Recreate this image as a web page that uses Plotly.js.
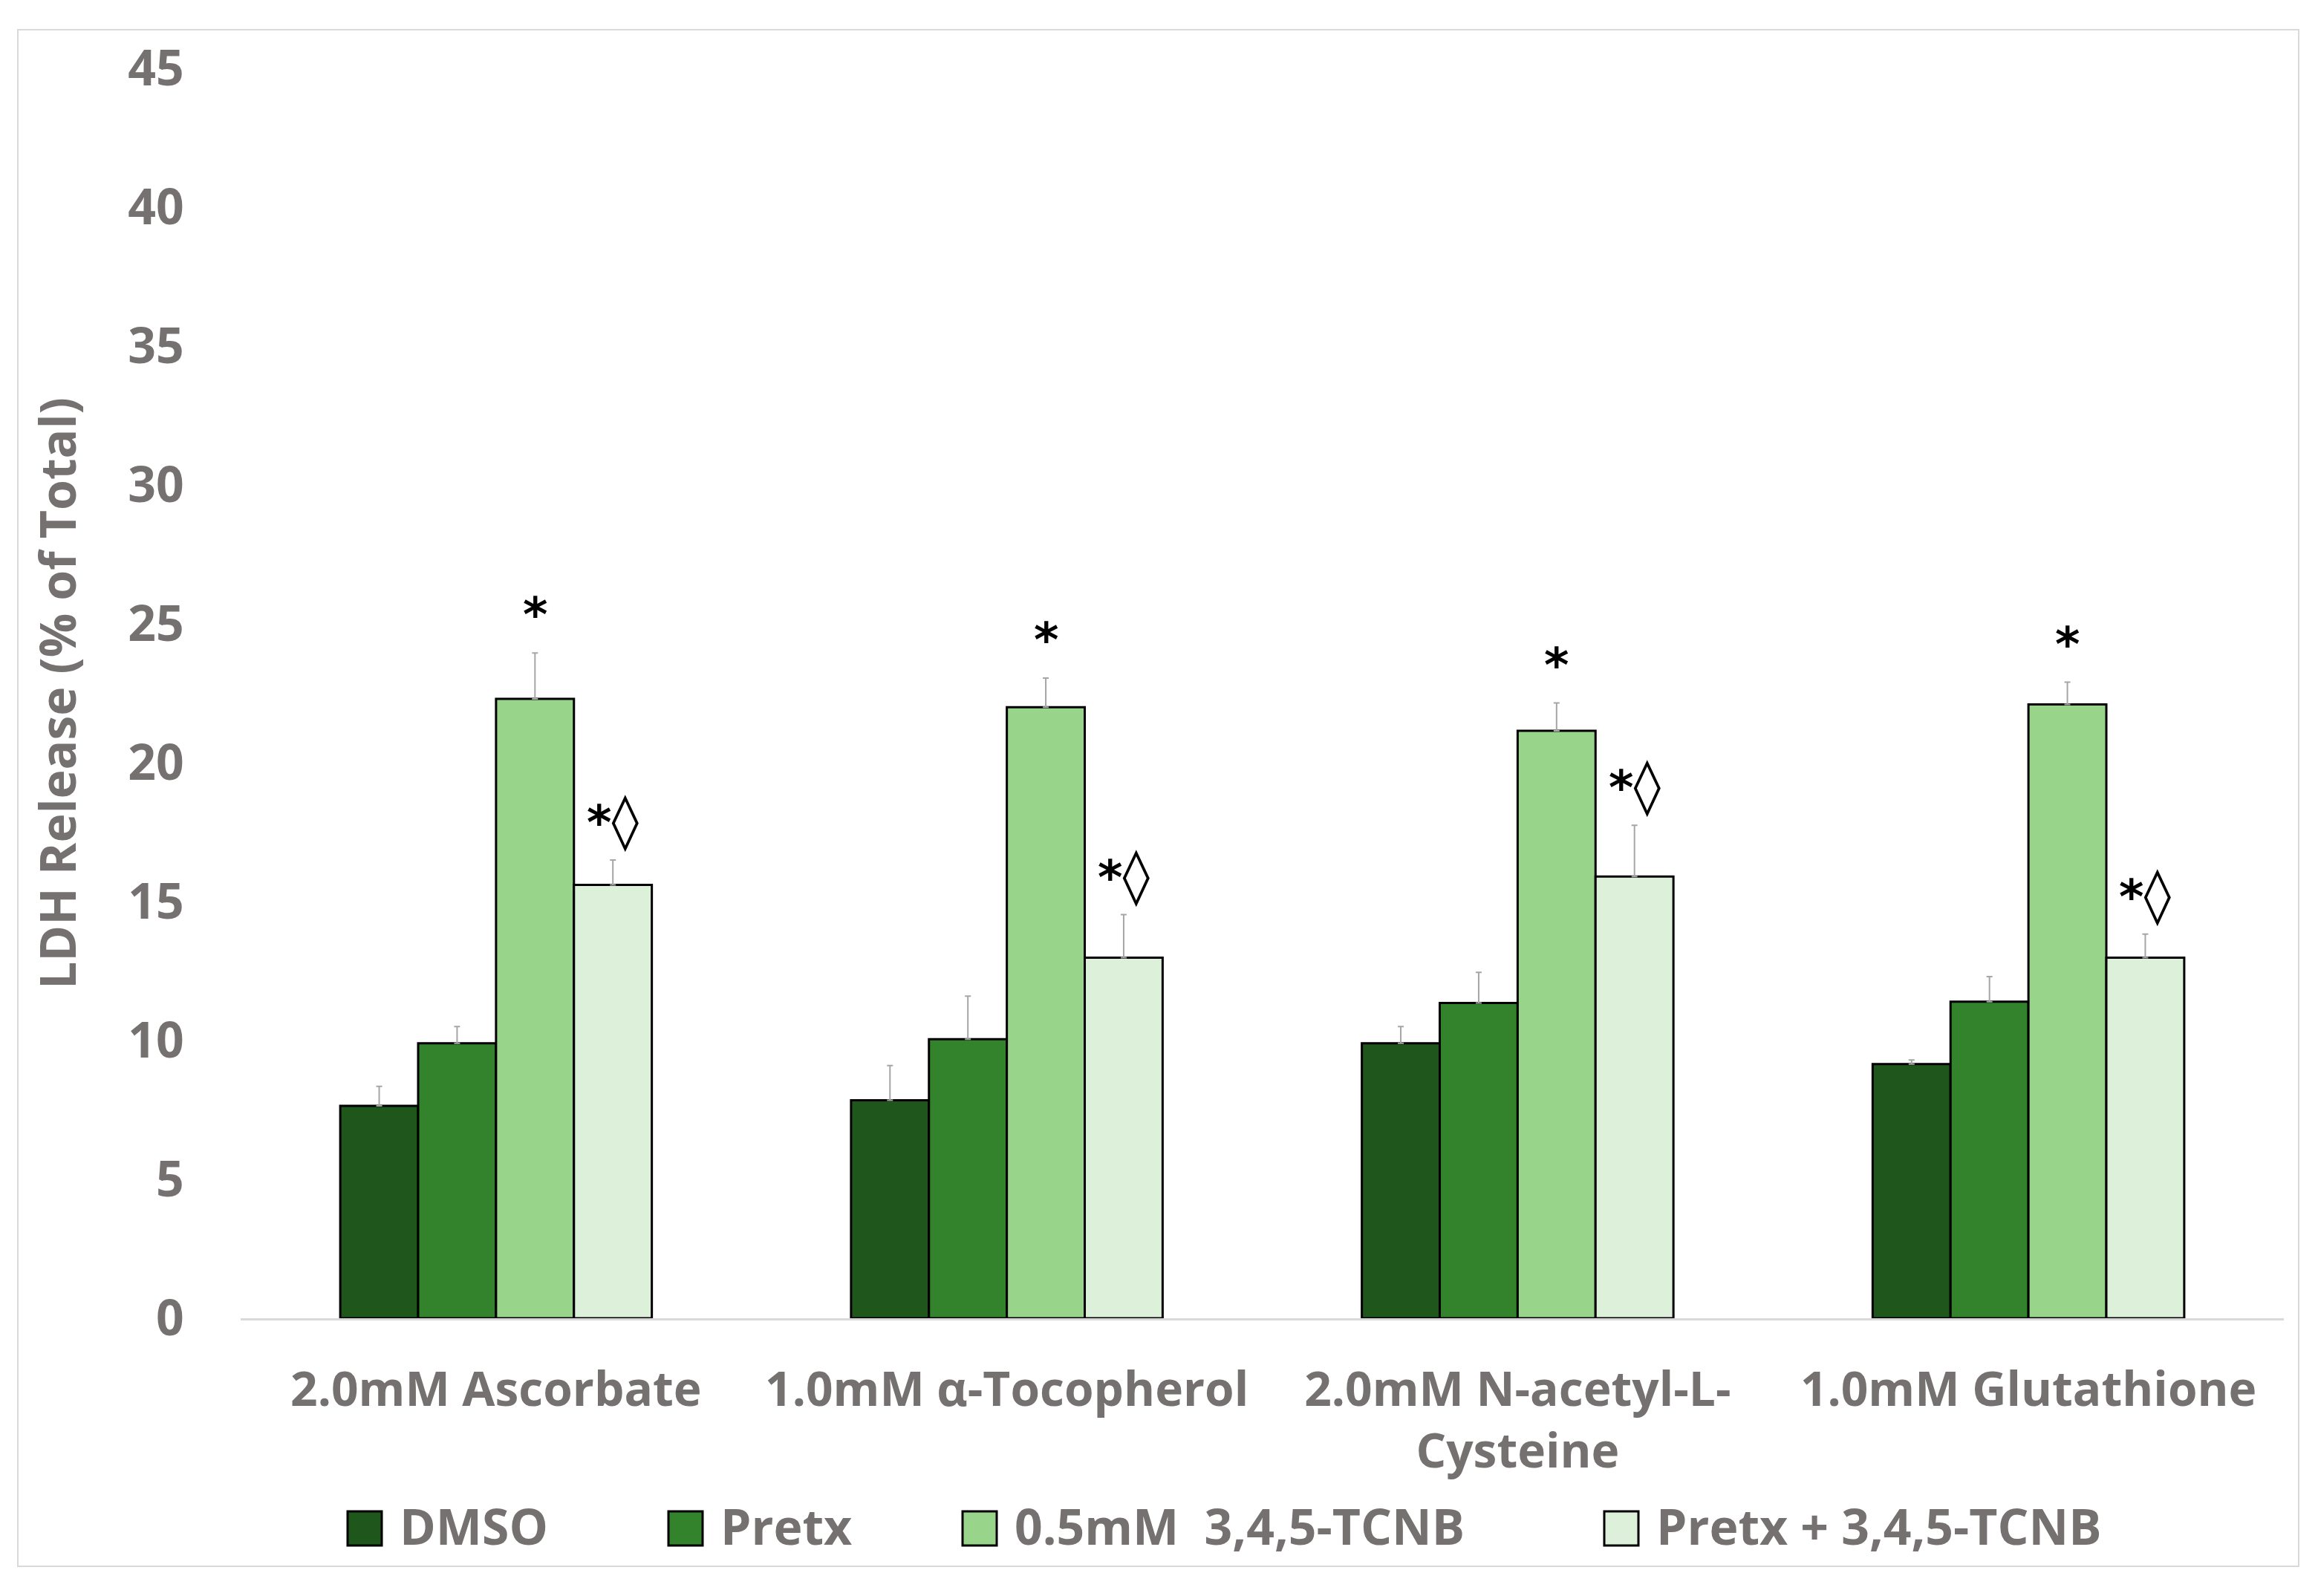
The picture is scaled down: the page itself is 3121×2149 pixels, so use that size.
<!DOCTYPE html>
<html>
<head>
<meta charset="utf-8">
<script src="https://cdn.plot.ly/plotly-3.0.1.min.js"></script>
<style>
  body { margin: 0; background: #fff; }
  #chart { width: 3121px; height: 2149px; }
</style>
</head>
<body>
<div id="chart"></div>
<script>
// categories and series
var categories = ['2.0mM Ascorbate', '1.0mM \u03b1-Tocopherol', '2.0mM N-acetyl-L-<br>Cysteine', '1.0mM Glutathione']
var seriesNames = ['DMSO', 'Pretx', '0.5mM\u00a0\u00a03,4,5-TCNB', 'Pretx + 3,4,5-TCNB']
var dmso = [7.65, 7.85, 9.9, 9.15]
var dmsoErr = [0.7, 1.25, 0.6, 0.15]
var pretx = [9.9, 10.05, 11.35, 11.4]
var pretxErr = [0.6, 1.55, 1.1, 0.9]
var tcnb = [22.3, 22.0, 21.15, 22.1]
var tcnbErr = [1.65, 1.05, 1.0, 0.8]
var pretxTcnb = [15.6, 12.98, 15.9, 12.98]
var pretxTcnbErr = [0.9, 1.55, 1.85, 0.85]
var tcnbSig = ['*', '*', '*', '*']
var pretxTcnbSig = ['*<span style="font-size:74px">\u25ca</span>', '*<span style="font-size:74px">\u25ca</span>',
                    '*<span style="font-size:74px">\u25ca</span>', '*<span style="font-size:74px">\u25ca</span>']

//setting
var W = 3121, H = 2149
var mL = 324, mR = 46, mT = 92, mB = 374
var grayText = '#767171'
var fontFam = '"Open Sans", Lato, sans-serif'
var colors = ['#1f561b', '#32832b', '#98d48a', '#ddf0da']
var values = [dmso, pretx, tcnb, pretxTcnb]
var errs = [dmsoErr, pretxErr, tcnbErr, pretxTcnbErr]

// pixel -> paper helpers for the things drawn outside the plot area
var plotW = W - mL - mR, plotH = H - mT - mB
function px(x) { return (x - mL) / plotW }
function py(y) { return (H - mB - y) / plotH }

var data = []
for (var i = 0; i < 4; i++) {
    data.push({
        type: 'bar',
        name: seriesNames[i],
        x: categories,
        y: values[i],
        showlegend: false,
        marker: { color: colors[i], line: { color: '#000', width: 3 } },
        error_y: {
            type: 'data',
            symmetric: false,
            array: errs[i],
            arrayminus: errs[i].map(function () { return 0 }),
            color: '#a6a6a6',
            thickness: 2,
            width: 4
        }
    })
}

// significance marks above the two treated bars
var annotations = []
var shapes = []
var groupW = 0.61, barW = groupW / 4
var sigFont = { family: '"DejaVu Sans", sans-serif', size: 64, color: '#000', weight: 'bold' }
for (var j = 0; j < categories.length; j++) {
    annotations.push({
        x: j - groupW / 2 + barW * 2.5, y: tcnb[j] + tcnbErr[j],
        xref: 'x', yref: 'y', text: tcnbSig[j], showarrow: false,
        yanchor: 'bottom', yshift: 12, font: sigFont
    })
    annotations.push({
        x: j - groupW / 2 + barW * 3.5, y: pretxTcnb[j] + pretxTcnbErr[j],
        xref: 'x', yref: 'y', text: pretxTcnbSig[j], showarrow: false,
        yanchor: 'bottom', yshift: 8, font: sigFont
    })
}

// legend drawn by hand so the swatches get the big square look
var legendSwatchX = [468, 900, 1296, 2160]
var legendY = 2058, swatch = 46
for (var k = 0; k < seriesNames.length; k++) {
    shapes.push({
        type: 'rect', xref: 'paper', yref: 'paper',
        x0: px(legendSwatchX[k]), x1: px(legendSwatchX[k] + swatch),
        y0: py(legendY + swatch / 2), y1: py(legendY - swatch / 2),
        fillcolor: colors[k], line: { color: '#000', width: 3 }
    })
    annotations.push({
        x: px(legendSwatchX[k] + swatch + 22), y: py(legendY - 4),
        xref: 'paper', yref: 'paper', xanchor: 'left', yanchor: 'middle',
        text: seriesNames[k], showarrow: false,
        font: { family: fontFam, size: 66, color: grayText, weight: 'bold' }
    })
}

// outer chart border
shapes.push({
    type: 'rect', xref: 'paper', yref: 'paper',
    x0: px(24), x1: px(3095), y0: py(2109), y1: py(40),
    line: { color: '#d9d9d9', width: 2 },
    fillcolor: 'rgba(0,0,0,0)'
})

var layout = {
    width: W,
    height: H,
    margin: { l: mL, r: mR, t: mT, b: mB },
    paper_bgcolor: '#fff',
    plot_bgcolor: '#fff',
    barmode: 'group',
    bargap: 0.39,
    bargroupgap: 0,
    font: { family: fontFam, size: 66, color: grayText, weight: 'bold' },
    showlegend: false,
    xaxis: {
        type: 'category',
        range: [-0.5, 3.5],
        showline: true,
        linecolor: '#d9d9d9',
        linewidth: 3,
        showgrid: false,
        ticks: 'outside',
        ticklen: 38,
        tickcolor: 'rgba(0,0,0,0)',
        tickfont: { family: fontFam, size: 64, color: grayText, weight: 'bold' }
    },
    yaxis: {
        range: [0, 45],
        dtick: 5,
        showgrid: false,
        zeroline: false,
        showline: false,
        ticks: 'outside',
        ticklen: 62,
        tickcolor: 'rgba(0,0,0,0)',
        tickfont: { family: fontFam, size: 66, color: grayText, weight: 'bold' },
        title: {
            text: 'LDH Release (% of Total)',
            font: { family: fontFam, size: 66, color: grayText, weight: 'bold' },
            standoff: 48
        }
    },
    annotations: annotations,
    shapes: shapes
}

Plotly.newPlot('chart', data, layout, { staticPlot: true })
</script>
</body>
</html>
